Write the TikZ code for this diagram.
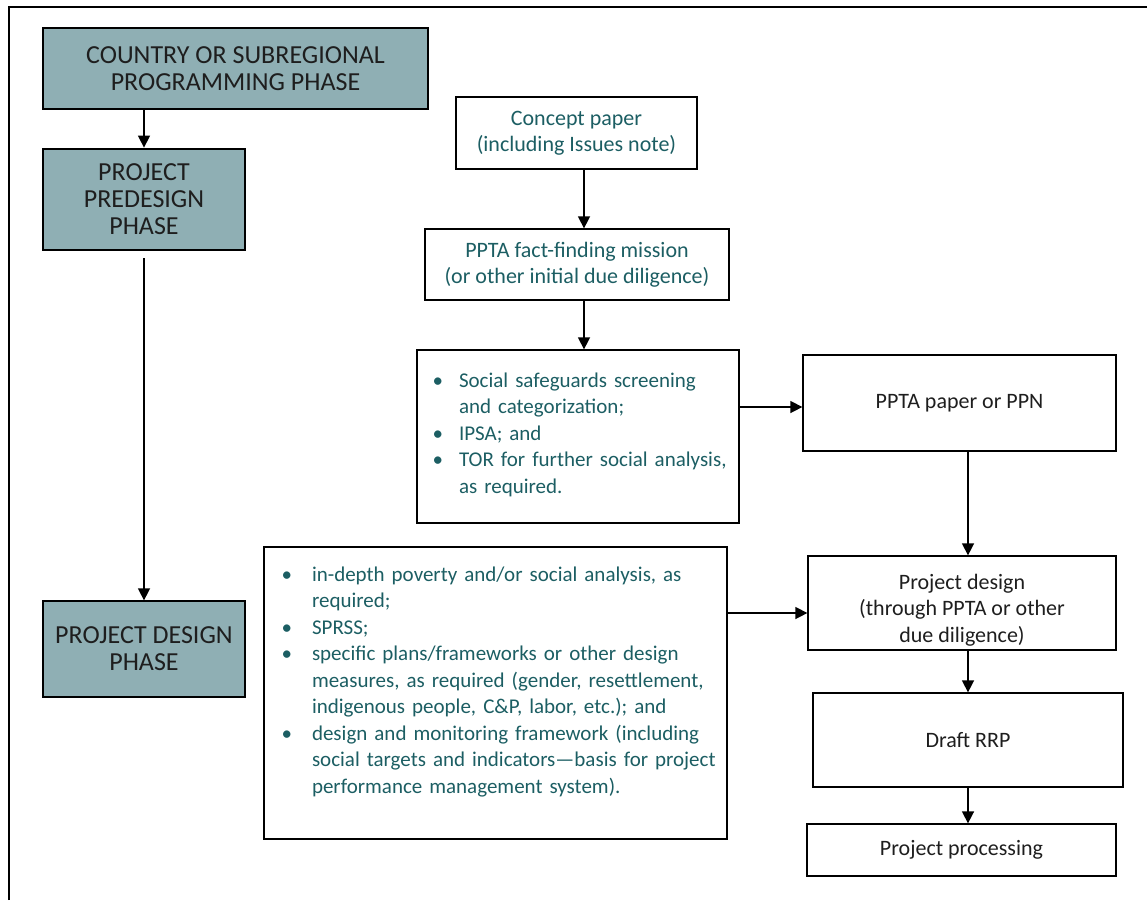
\documentclass[tikz,border=0pt]{standalone}
\usepackage{fontspec}
\setmainfont{Carlito}
\usepackage{enumitem}
\usetikzlibrary{
    arrows.meta,
    calc,
    positioning
}
\definecolor{phasefill}{RGB}{143,175,180}
\definecolor{tealtext}{RGB}{28,94,99}
\definecolor{darktext}{RGB}{30,30,30}
\newcommand{\bodysize}{\fontsize{22}{26.5}\selectfont}
\newcommand{\listsize}{\fontsize{21}{26.5}\selectfont}
\newcommand{\phasesize}{\fontsize{26}{27}\selectfont}
\newenvironment{safelist}[2]{\begin{itemize}[label=\textbullet, leftmargin=#1, labelsep=#2,
    align=right, topsep=0pt, partopsep=0pt, itemsep=0pt, parsep=0pt]\raggedright}{\end{itemize}}
\tikzset{
    phasebox/.style={draw, line width=1.3pt, fill=phasefill, text=darktext, font=\phasesize, align=center, inner sep=0pt},
    docbox/.style={draw, line width=1.3pt, text=darktext, font=\bodysize, align=center, inner sep=0pt},
    listbox/.style={draw, line width=1.3pt, text=tealtext, font=\listsize, inner sep=0pt},
    link/.style={line width=1.5pt, -{Triangle[length=12pt,width=12pt]}}
}

\begin{document}
\begin{tikzpicture}[x=1pt, y=-1pt]
    \useasboundingbox (0, 0) rectangle (1147, 900);
    \draw[line width=1.3pt] (9, 900) -- (9, 7) -- (1147, 7);
    % phases
    \node[phasebox, minimum width=385pt, minimum height=81pt] (country) at (235.5, 68.5)
        {COUNTRY OR SUBREGIONAL\\PROGRAMMING PHASE};
    \node[phasebox, line width=2.8pt, minimum width=202pt, minimum height=101pt] (predesign) at (144, 199.5)
        {PROJECT\\PREDESIGN\\PHASE};
    \node[phasebox, minimum width=202pt, minimum height=96pt] (design) at (144, 649)
        {PROJECT DESIGN\\PHASE};
    % predesign steps
    \node[docbox, text=tealtext, minimum width=241pt, minimum height=72pt] (concept) at (576.5, 133)
        {Concept paper\\(including Issues note)};
    \node[docbox, text=tealtext, minimum width=304pt, minimum height=71pt] (mission) at (577, 264.5)
        {PPTA fact-finding mission\\(or other initial due diligence)};
    \node[listbox, text width=322pt, minimum height=173pt] (screening) at (578, 436.5) {%
        \begin{safelist}{42pt}{16pt}
        \item Social safeguards screening\newline and categorization;
        \item IPSA; and
        \item TOR for further social analysis,\newline as required.
        \end{safelist}\par\vspace*{16pt}};
    \node[docbox, minimum width=313pt, minimum height=96pt] (pptapaper) at (959.5, 403)
        {PPTA paper or PPN};
    % design steps
    \node[listbox, text width=463pt, minimum height=292pt] (analysis) at (495.5, 693) {%
        \begin{safelist}{48pt}{20pt}
        \item in-depth poverty and/or social analysis, as\newline required;
        \item SPRSS;
        \item specific plans/frameworks or other design\newline measures, as required (gender, resettlement,\newline indigenous people, C\&P, labor, etc.); and
        \item design and monitoring framework (including\newline social targets and indicators—basis for project\newline performance management system).
        \end{safelist}\par\vspace*{34pt}};
    \node[docbox, minimum width=308pt, minimum height=94pt] (projdesign) at (962, 603)
        {\rule{0pt}{29pt}Project design\\(through PPTA or other\\due diligence)};
    \node[docbox, minimum width=310pt, minimum height=94pt] (draftrrp) at (968, 740)
        {Draft RRP};
    \node[docbox, minimum width=309pt, minimum height=52pt] (processing) at (961.5, 850)
        {Project processing};
    % connectors
    \draw[link] (predesign.north |- country.south) -- (predesign.north);
    \draw[link, shorten <=7pt] (predesign.south) -- (design.north);
    \draw[link] ([xshift=7.5pt]concept.south) -- ([xshift=7.5pt]concept.south |- mission.north);
    \draw[link] ([xshift=7pt]mission.south) -- ([xshift=7pt]mission.south |- screening.north);
    \draw[link] ([yshift=-4pt]pptapaper.west -| screening.east) -- ([yshift=-4pt]pptapaper.west);
    \draw[link] ([xshift=8.5pt]pptapaper.south) -- ([xshift=8.5pt]pptapaper.south |- projdesign.north);
    \draw[link] ([yshift=-10pt]projdesign.west -| analysis.east) -- ([yshift=-10pt]projdesign.west);
    \draw[link] (draftrrp.north |- projdesign.south) -- (draftrrp.north);
    \draw[link] (draftrrp.south) -- (draftrrp.south |- processing.north);
\end{tikzpicture}
\end{document}
